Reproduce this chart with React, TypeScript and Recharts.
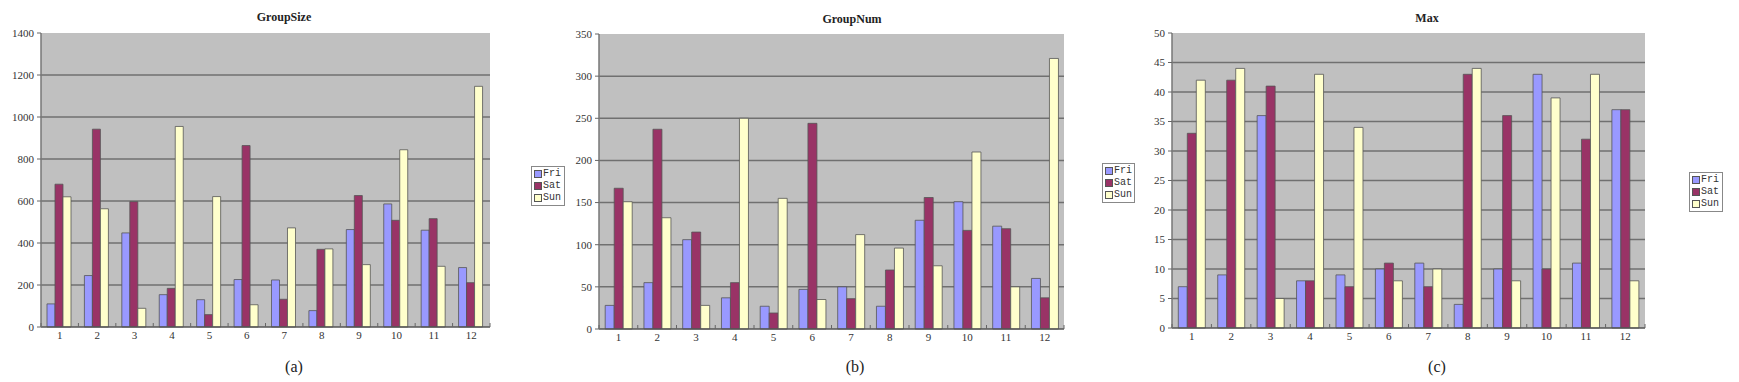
import React from "react";
import {
  BarChart,
  Bar,
  XAxis,
  YAxis,
  CartesianGrid,
  Legend,
} from "recharts";

const groups = ["1", "2", "3", "4", "5", "6", "7", "8", "9", "10", "11", "12"];

const sizeFri = [110, 245, 448, 154, 130, 226, 224, 78, 464, 586, 461, 283];
const sizeSat = [680, 942, 597, 184, 59, 864, 132, 370, 626, 508, 516, 211];
const sizeSun = [620, 563, 89, 955, 621, 106, 472, 372, 297, 844, 289, 1146];
const sizeTicks = [0, 200, 400, 600, 800, 1000, 1200, 1400];

const numFri = [28, 55, 106, 37, 27, 47, 50, 27, 129, 151, 122, 60];
const numSat = [167, 237, 115, 55, 19, 244, 36, 70, 156, 117, 119, 37];
const numSun = [151, 132, 28, 250, 155, 35, 112, 96, 75, 210, 50, 321];
const numTicks = [0, 50, 100, 150, 200, 250, 300, 350];

const maxFri = [7, 9, 36, 8, 9, 10, 11, 4, 10, 43, 11, 37];
const maxSat = [33, 42, 41, 8, 7, 11, 7, 43, 36, 10, 32, 37];
const maxSun = [42, 44, 5, 43, 34, 8, 10, 44, 8, 39, 43, 8];
const maxTicks = [0, 5, 10, 15, 20, 25, 30, 35, 40, 45, 50];

const series = [
  { key: "Fri", color: "#9999FF" },
  { key: "Sat", color: "#993366" },
  { key: "Sun", color: "#FFFFCC" },
];

const build = (fri: number[], sat: number[], sun: number[]) =>
  groups.map((g, i) => ({ name: g, Fri: fri[i], Sat: sat[i], Sun: sun[i] }));

const tickFont = { fontFamily: "Liberation Serif", fontSize: 11, fill: "#333" };

function CatTick(props: any) {
  const { x, y, payload, index } = props;
  const half = payload.offset || 0;
  return (
    <g>
      <line x1={x - half} x2={x - half} y1={y - 12} y2={y - 8} stroke="#666" />
      {index === groups.length - 1 && (
        <line x1={x + half} x2={x + half} y1={y - 12} y2={y - 8} stroke="#666" />
      )}
      <text x={x} y={y + 4} textAnchor="middle" {...tickFont}>
        {payload.value}
      </text>
    </g>
  );
}

function LegendBox() {
  return (
    <div
      style={{
        border: "1px solid #888",
        background: "#fff",
        padding: "1px 2px",
        fontFamily: "Liberation Mono",
        fontSize: 10,
        lineHeight: "12px",
        color: "#333",
      }}
    >
      {series.map((s) => (
        <div key={s.key} style={{ display: "flex", alignItems: "center" }}>
          <span
            style={{
              width: 6,
              height: 6,
              background: s.color,
              border: "1px solid #555",
              marginRight: 1,
            }}
          />
          {s.key}
        </div>
      ))}
    </div>
  );
}

function Panel(props: any) {
  const { left, width, yw, right, data, ticks, title, titleX, titleY, sub, subX, legend } = props;
  const top = ticks[ticks.length - 1];
  return (
    <>
      <div style={{ position: "absolute", left, top: 0 }}>
        <BarChart
          width={width}
          height={382}
          data={data}
          margin={{ top: props.top, right, left: 0, bottom: 0 }}
          barCategoryGap="16%"
          barGap={0}
        >
          <CartesianGrid
            vertical={false}
            fill="#C0C0C0"
            stroke="#707070"
            strokeWidth={1.5}
            horizontalValues={ticks.filter((t: number) => t !== top && t !== 0)}
          />
          <XAxis
            dataKey="name"
            height={382 - props.bottom}
            tick={<CatTick />}
            tickLine={false}
            axisLine={{ stroke: "#555", strokeWidth: 1.5 }}
            interval={0}
          />
          <YAxis
            width={yw}
            domain={[0, top]}
            ticks={ticks}
            tick={tickFont}
            tickSize={4}
            tickMargin={3}
            tickLine={{ stroke: "#666" }}
            axisLine={{ stroke: "#777", strokeWidth: 1.5 }}
            interval={0}
          />
          <Legend
            layout="horizontal"
            verticalAlign="middle"
            align="right"
            content={() => <LegendBox />}
            wrapperStyle={{ left: legend[0], top: legend[1], width: legend[2], height: "auto" }}
          />
          {series.map((s) => (
            <Bar
              key={s.key}
              dataKey={s.key}
              fill={s.color}
              stroke="#555"
              strokeWidth={0.8}
              isAnimationActive={false}
            />
          ))}
        </BarChart>
      </div>
      <div
        style={{
          position: "absolute",
          left: titleX,
          top: titleY,
          transform: "translateX(-50%)",
          fontFamily: "Liberation Serif",
          fontWeight: "bold",
          fontSize: 12,
          color: "#222",
          whiteSpace: "nowrap",
        }}
      >
        {title}
      </div>
      <div
        style={{
          position: "absolute",
          left: subX,
          top: 358,
          transform: "translateX(-50%)",
          fontFamily: "Liberation Serif",
          fontSize: 16,
          color: "#222",
        }}
      >
        {sub}
      </div>
    </>
  );
}

export default function App() {
  return (
    <div
      style={{
        position: "absolute",
        left: 0,
        top: 0,
        width: 1739,
        height: 382,
        background: "#fff",
        overflow: "hidden",
      }}
    >
      <Panel
        left={0}
        width={580}
        yw={41}
        right={56}
        top={33}
        bottom={327}
        data={build(sizeFri, sizeSat, sizeSun)}
        ticks={sizeTicks}
        title="GroupSize"
        titleX={284}
        titleY={10}
        sub="(a)"
        subX={294}
        legend={[531, 166, 34]}
      />
      <Panel
        left={560}
        width={580}
        yw={39}
        right={43}
        top={34}
        bottom={329}
        data={build(numFri, numSat, numSun)}
        ticks={numTicks}
        title="GroupNum"
        titleX={852}
        titleY={12}
        sub="(b)"
        subX={855}
        legend={[542, 163, 33]}
      />
      <Panel
        left={1140}
        width={599}
        yw={32}
        right={60}
        top={33}
        bottom={328}
        data={build(maxFri, maxSat, maxSun)}
        ticks={maxTicks}
        title="Max"
        titleX={1427}
        titleY={11}
        sub="(c)"
        subX={1437}
        legend={[549, 172, 34]}
      />
    </div>
  );
}
